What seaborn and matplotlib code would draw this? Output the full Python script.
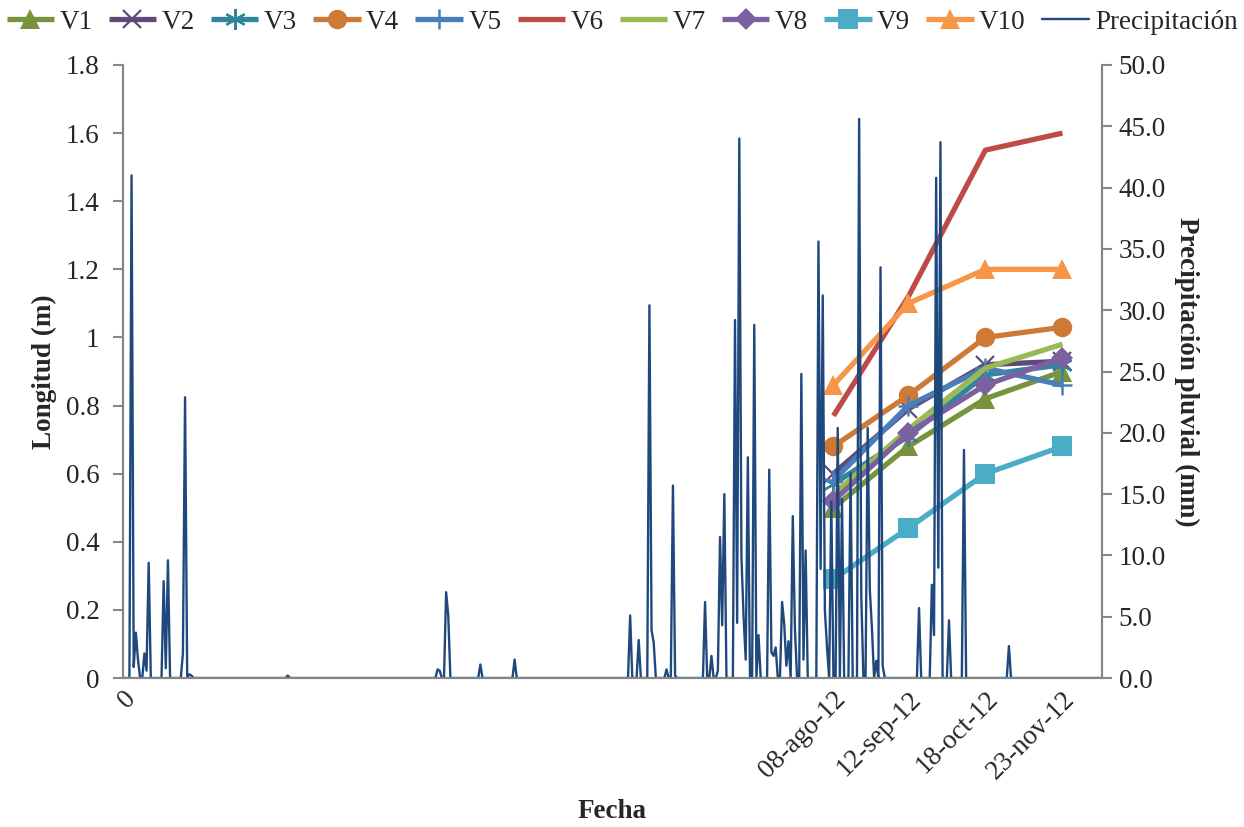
import numpy as np
import pandas as pd
import matplotlib
matplotlib.use("Agg")
import matplotlib.pyplot as plt
import seaborn as sns

# ---------------- data ----------------
fechas = ["08-ago-12", "12-sep-12", "18-oct-12", "23-nov-12"]
fechas_iso = ["2012-08-08", "2012-09-12", "2012-10-18", "2012-11-23"]
inicio = "2011-09-11"
n_dias = 458

V1 = [0.50, 0.68, 0.82, 0.90]
V2 = [0.60, 0.79, 0.92, 0.93]
V3 = [0.57, 0.71, 0.89, 0.92]
V4 = [0.68, 0.83, 1.00, 1.03]
V5 = [0.58, 0.80, 0.91, 0.86]
V6 = [0.77, 1.12, 1.55, 1.60]
V7 = [0.54, 0.73, 0.91, 0.98]
V8 = [0.52, 0.72, 0.86, 0.94]
V9 = [0.29, 0.44, 0.60, 0.68]
V10 = [0.86, 1.10, 1.20, 1.20]

# rainy days (day index from start) and precipitation (mm); other days 0
lluvia_dias = [4, 5, 6, 7, 10, 11, 12, 19, 20, 21, 28, 29, 31, 32, 77,
               147, 148, 151, 152, 167, 183,
               237, 241, 246, 247, 248, 254, 257, 258,
               272, 275, 278, 279, 280, 281, 286, 287, 288, 289, 290, 291, 292,
               295, 297, 302, 303, 304, 305, 308, 309, 310, 311, 313, 314,
               317, 318, 319, 325, 326, 327, 328, 329, 331, 334, 336, 340,
               344, 345, 348, 349, 350, 352, 354, 355,
               372, 378, 379, 380, 381, 382, 386, 393, 414]
lluvia_mm = [41.0, 0.9, 3.7, 1.5, 2.0, 0.6, 9.4, 7.9, 0.8, 9.6, 2.0, 22.9, 0.3, 0.2, 0.2,
             0.7, 0.6, 7.0, 5.1, 1.1, 1.5,
             5.1, 3.1, 30.4, 3.9, 2.9, 0.7, 15.7, 0.2,
             6.2, 1.8, 0.6, 11.5, 4.3, 15.0, 29.2, 4.5, 44.0, 9.9, 5.0, 1.5, 18.0,
             28.8, 3.5, 17.0, 2.1, 1.8, 2.5, 6.2, 4.4, 1.0, 3.0, 13.2, 4.0,
             24.8, 1.5, 10.4, 35.6, 8.9, 31.2, 5.5, 2.5, 14.4, 20.4, 14.6, 16.7,
             45.6, 6.8, 20.4, 7.2, 4.0, 1.4, 33.5, 1.0,
             5.7, 7.6, 3.5, 40.8, 9.0, 43.7, 4.7, 18.6, 2.6]

series = {"V1": V1, "V2": V2, "V3": V3, "V4": V4, "V5": V5,
          "V6": V6, "V7": V7, "V8": V8, "V9": V9, "V10": V10}
estilos = {
    "V1": dict(color="#77933C", marker="^", ms=15),
    "V2": dict(color="#604A7B", marker="x", ms=13, mew=1.6),
    "V3": dict(color="#31859C", marker=(6, 2, 0), ms=15, mew=1.6),
    "V4": dict(color="#CD7A37", marker="o", ms=14),
    "V5": dict(color="#4A7EBB", marker="+", ms=15, mew=1.8),
    "V6": dict(color="#BE4B48", marker=None),
    "V7": dict(color="#98B954", marker=None),
    "V8": dict(color="#7D60A0", marker="D", ms=11),
    "V9": dict(color="#4BACC6", marker="s", ms=14),
    "V10": dict(color="#F79646", marker="^", ms=15),
}

# ---------------- build tables ----------------
t0 = pd.Timestamp(inicio)
x_fechas = [(pd.Timestamp(f) - t0).days for f in fechas_iso]
df_v = pd.DataFrame([(k, x, v) for k, vals in series.items() for x, v in zip(x_fechas, vals)],
                    columns=["serie", "dia", "longitud"])
lluvia = np.zeros(n_dias)
lluvia[lluvia_dias] = lluvia_mm
df_p = pd.DataFrame({"dia": np.arange(n_dias), "mm": lluvia})

# ---------------- plot ----------------
sns.set_theme(style="white")
plt.rcParams["font.family"] = ["Liberation Serif", "DejaVu Serif"]

fig = plt.figure(figsize=(12.44, 8.27), dpi=100)
ax = fig.add_axes([123 / 1244, 1 - 678 / 827, (1102 - 123) / 1244, (678 - 65) / 827])
ax2 = ax.twinx()

FS = 19.5
for k in series:
    st = estilos[k]
    sub = df_v[df_v.serie == k]
    sns.lineplot(data=sub, x="dia", y="longitud", ax=ax, color=st["color"],
                 linewidth=3.8, marker=st["marker"], markersize=st.get("ms", 0),
                 markeredgewidth=st.get("mew", 0), markeredgecolor=st["color"],
                 label=k, legend=False, solid_capstyle="butt")

sns.lineplot(data=df_p, x="dia", y="mm", ax=ax2, color="#1F497D", linewidth=1.7,
             label="Precipitación", legend=False)

xmax = n_dias - 0.5
ax.set_xlim(0, xmax)
ax.set_ylim(0, 1.8)
ax2.set_ylim(0, 50)

gris = "#868686"
for a in (ax, ax2):
    for s in a.spines.values():
        s.set_color(gris)
        s.set_linewidth(1.5)
    a.spines["top"].set_visible(False)
    a.grid(False)
    a.set_facecolor("none")

ax.set_yticks(np.arange(0, 1.81, 0.2))
ax.set_yticklabels([("%g" % round(v, 1)) for v in np.arange(0, 1.81, 0.2)], fontsize=FS)
ax2.set_yticks(np.arange(0, 50.1, 5))
ax2.set_yticklabels(["%.1f" % v for v in np.arange(0, 50.1, 5)], fontsize=FS)

ax.set_xticks([0] + x_fechas)
ax.set_xticklabels(["0"] + fechas, rotation=45, ha="right", rotation_mode="anchor", fontsize=FS)
ax.set_xticks([0, xmax], minor=True)
ax.tick_params(axis="x", which="major", length=0, pad=6)
ax.tick_params(axis="x", which="minor", length=7, width=1.5, color=gris, direction="out")
ax.tick_params(axis="y", length=7, width=1.5, color=gris, direction="out", pad=10, left=True)
ax2.tick_params(axis="y", length=7, width=1.5, color=gris, direction="out", pad=5, right=True)

ax.set_xlabel("Fecha", fontsize=FS, fontweight="bold", labelpad=11)
ax.set_ylabel("Longitud (m)", fontsize=FS, fontweight="bold", labelpad=6)
ax2.set_ylabel("Precipitación pluvial (mm)", fontsize=FS, fontweight="bold",
               rotation=270, labelpad=24)

handles = ax.get_lines() + ax2.get_lines()
handles = [h for h in handles if h.get_label() and not h.get_label().startswith("_")]
fig.legend(handles=handles, labels=[h.get_label() for h in handles],
           loc="upper center", bbox_to_anchor=(0.5, 1.008), ncol=11, frameon=False,
           fontsize=FS, handlelength=1.75, handletextpad=0.2, columnspacing=0.6,
           borderaxespad=0.2)

fig.savefig("out.png", dpi=100, facecolor="white")
